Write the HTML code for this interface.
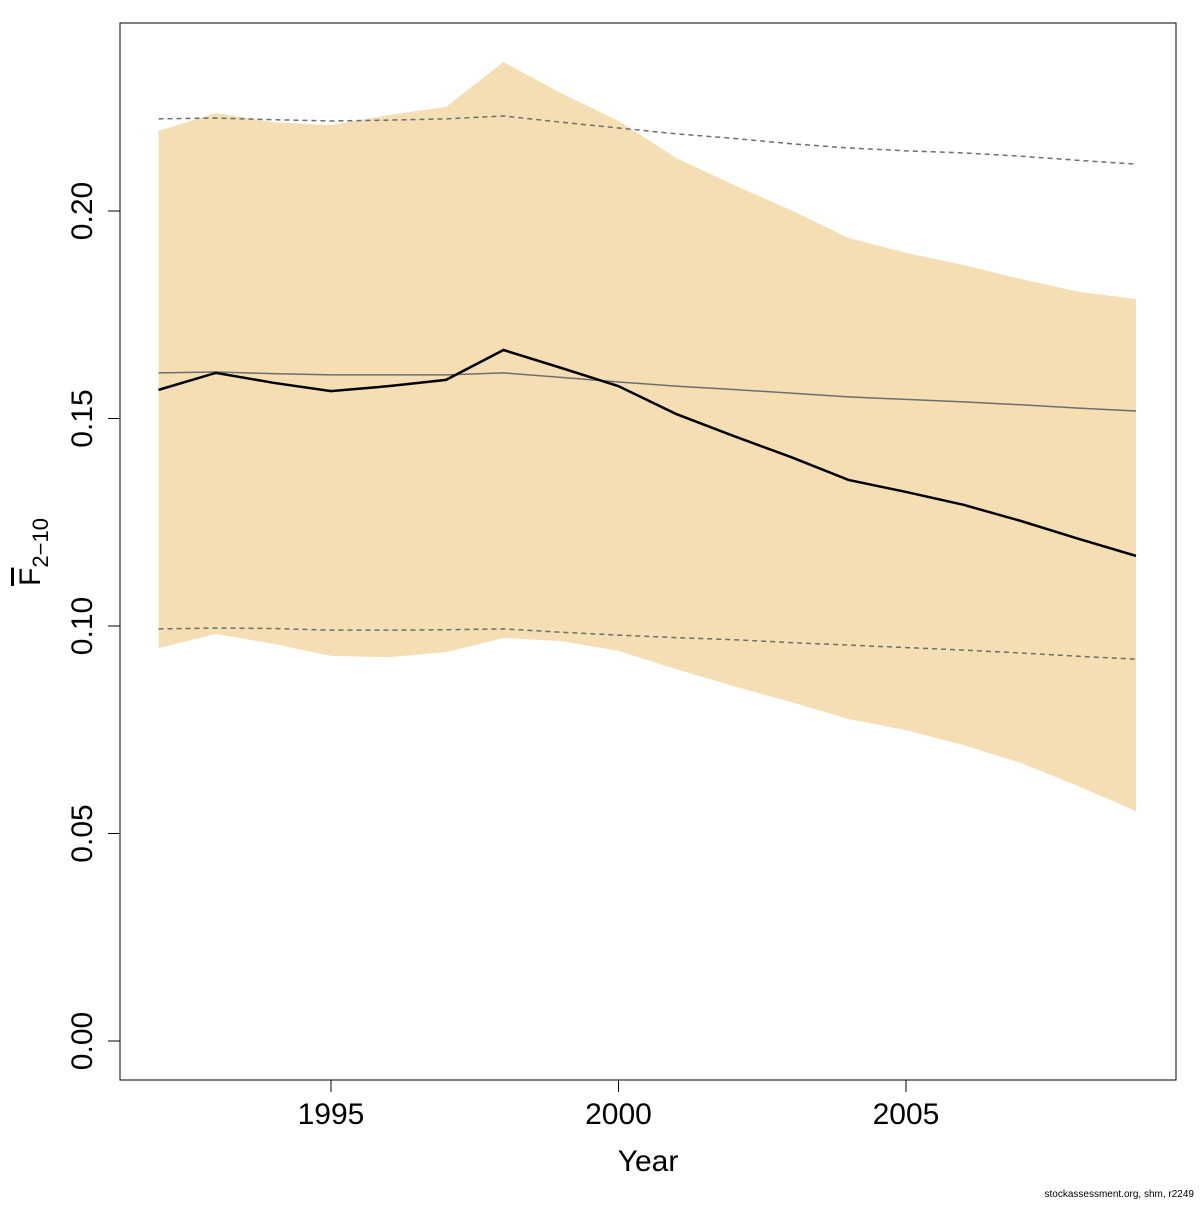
<!DOCTYPE html>
<html><head><meta charset="utf-8"><style>
body{margin:0;background:#fff;}
svg text{font-family:"Liberation Sans","DejaVu Sans",sans-serif;}
</style></head><body>
<svg id="chart" width="1200" height="1200" xmlns="http://www.w3.org/2000/svg">
<rect x="120" y="23" width="1056" height="1057" fill="none" stroke="#000" stroke-width="1"/>
<g id="band"></g><g id="lines"></g><g id="axes"></g>
<text x="648" y="1171" font-size="30" text-anchor="middle">Year</text>
<text transform="translate(40,552) rotate(-90)" font-size="30" text-anchor="middle"><tspan text-decoration="overline">F</tspan><tspan font-size="22" dy="8">2−10</tspan></text>
<text x="1194" y="1197" font-size="10" text-anchor="end">stockassessment.org, shm, r2249</text>
</svg>
<script>
const years=[1992,1993,1994,1995,1996,1997,1998,1999,2000,2001,2002,2003,2004,2005,2006,2007,2008,2009];
const fbar=[0.1569,0.161,0.1586,0.1566,0.1578,0.1593,0.1665,0.1622,0.1578,0.1511,0.1458,0.1407,0.1352,0.1323,0.1292,0.1253,0.121,0.1169];
const upper=[0.2193,0.2236,0.2214,0.2207,0.2231,0.2251,0.2359,0.2284,0.2217,0.2128,0.2063,0.2002,0.1935,0.1899,0.187,0.1836,0.1805,0.1788];
const lower=[0.0947,0.0981,0.0957,0.0928,0.0925,0.0937,0.0971,0.0964,0.094,0.0896,0.0855,0.0817,0.0776,0.0749,0.0713,0.067,0.0614,0.0554];
const refMid=[0.161,0.1612,0.1608,0.1605,0.1605,0.1605,0.161,0.1599,0.1588,0.1578,0.157,0.1561,0.1552,0.1546,0.154,0.1533,0.1525,0.1518];
const refHi=[0.2222,0.2224,0.222,0.2217,0.2219,0.2222,0.2229,0.2214,0.22,0.2186,0.2175,0.2162,0.2152,0.2145,0.214,0.2132,0.2122,0.2113];
const refLo=[0.0993,0.0995,0.0994,0.099,0.099,0.0991,0.0993,0.0985,0.0978,0.0972,0.0967,0.096,0.0954,0.0948,0.0942,0.0935,0.0927,0.092];
const yTicks=["0.00","0.05","0.10","0.15","0.20"];
const xTicks=[1995,2000,2005];
const X=v=>331+(v-1995)*57.5;
const Y=v=>1041-v*4150;
const NS="http://www.w3.org/2000/svg";
function mk(tag,parent,attrs){const e=document.createElementNS(NS,tag);for(const k in attrs)e.setAttribute(k,attrs[k]);document.getElementById(parent).appendChild(e);return e;}
const pts=a=>years.map((y,i)=>X(y)+","+Y(a[i])).join(" ");
let bandPts=years.map((y,i)=>X(y)+","+Y(upper[i]));
for(let i=years.length-1;i>=0;i--)bandPts.push(X(years[i])+","+Y(lower[i]));
const band=mk("polygon","band",{points:bandPts.join(" "),fill:"#f5deb3"});


const l1=mk("polyline","lines",{points:pts(refHi),fill:"none",stroke:"#6e6e6e","stroke-width":1.5,"stroke-dasharray":"5,4"});


const l2=mk("polyline","lines",{points:pts(refLo),fill:"none",stroke:"#6e6e6e","stroke-width":1.5,"stroke-dasharray":"5,4"});


const l3=mk("polyline","lines",{points:pts(refMid),fill:"none",stroke:"#6e6e6e","stroke-width":1.5});


const l4=mk("polyline","lines",{points:pts(fbar),fill:"none",stroke:"#000","stroke-width":2.5});


yTicks.forEach(t=>{const v=parseFloat(t),y=Y(v);
 const tk=mk("line","axes",{x1:108,x2:120,y1:y,y2:y,stroke:"#000"});
 
 
 const tx=mk("text","axes",{transform:`translate(92,${y}) rotate(-90)`,"font-size":30,"text-anchor":"middle"});
 
 
 tx.textContent=t;});
xTicks.forEach(t=>{const x=X(t);
 const tk=mk("line","axes",{x1:x,x2:x,y1:1080,y2:1092,stroke:"#000"});
 
 
 const tx=mk("text","axes",{x:x,y:1124,"font-size":30,"text-anchor":"middle"});
 
 
 tx.textContent=t;});
</script>
</body></html>
